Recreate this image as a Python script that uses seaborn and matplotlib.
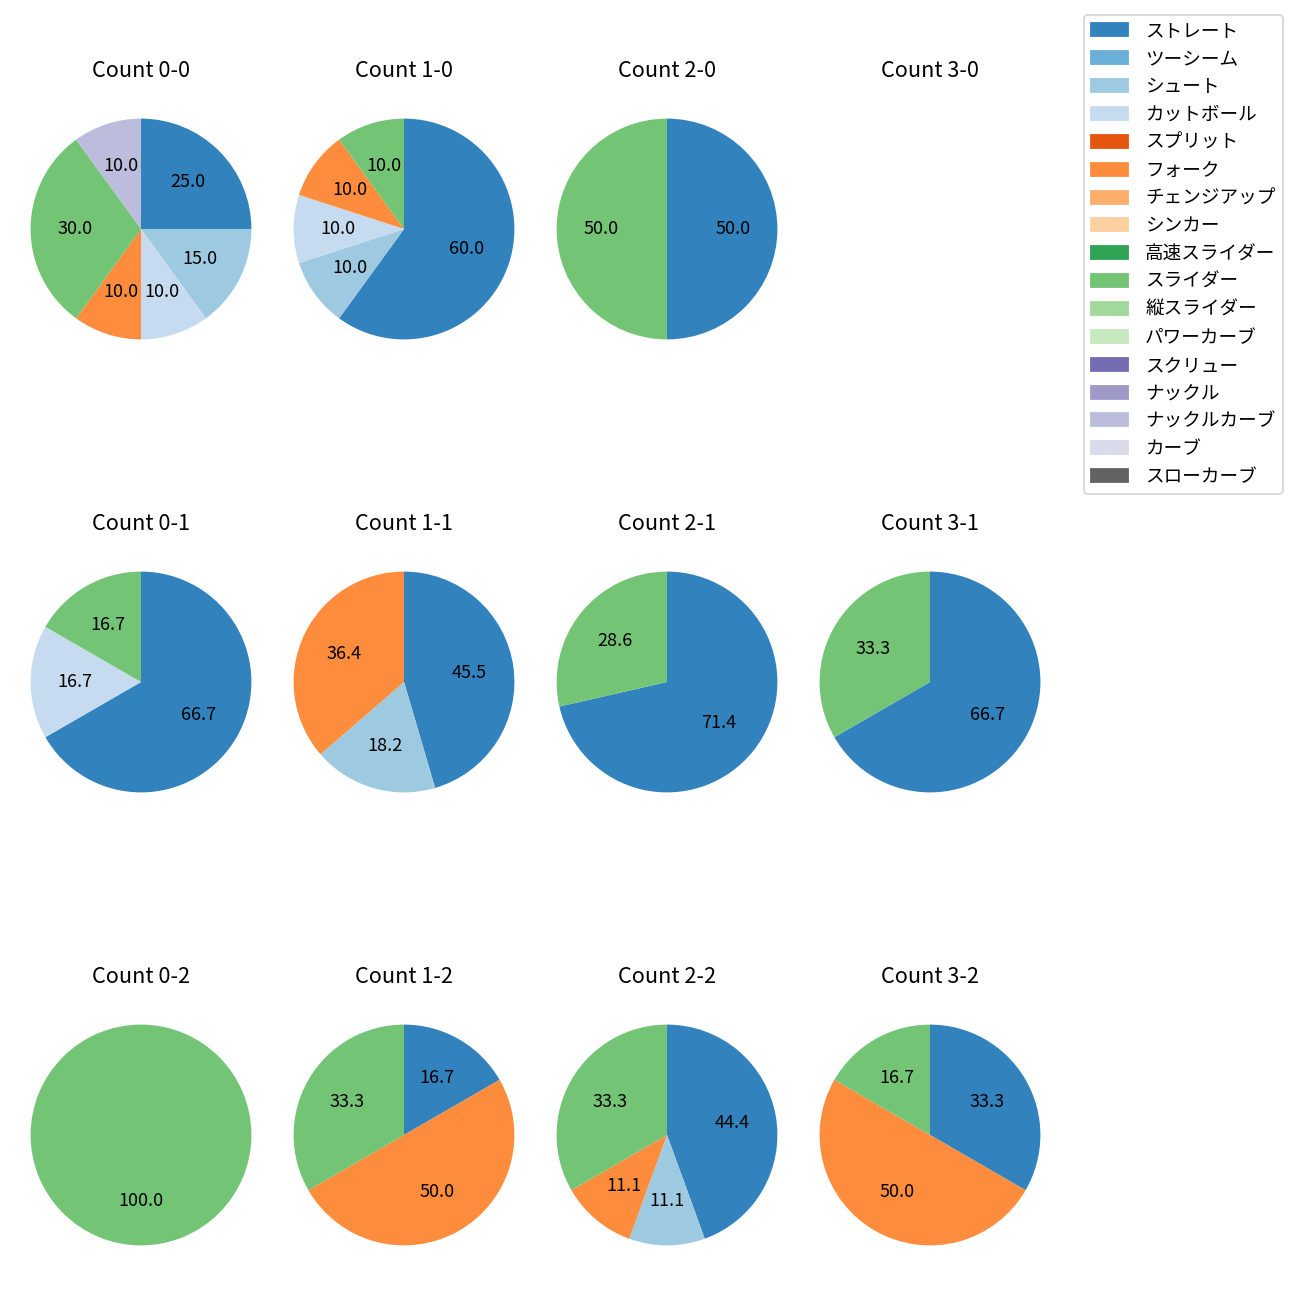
import matplotlib
matplotlib.use("Agg")
import matplotlib.pyplot as plt
import matplotlib.patches as mpatches
import seaborn as sns

plt.rcParams['font.family'] = ['Noto Sans CJK JP', 'DejaVu Sans']

pitch_types = ["ストレート", "ツーシーム", "シュート", "カットボール", "スプリット", "フォーク",
               "チェンジアップ", "シンカー", "高速スライダー", "スライダー", "縦スライダー",
               "パワーカーブ", "スクリュー", "ナックル", "ナックルカーブ", "カーブ", "スローカーブ"]

# pitch counts per ball-strike count, ordered as pitch_types
count_0_0 = [5, 0, 3, 2, 0, 2, 0, 0, 0, 6, 0, 0, 0, 0, 2, 0, 0]
count_1_0 = [6, 0, 1, 1, 0, 1, 0, 0, 0, 1, 0, 0, 0, 0, 0, 0, 0]
count_2_0 = [1, 0, 0, 0, 0, 0, 0, 0, 0, 1, 0, 0, 0, 0, 0, 0, 0]
count_3_0 = [0, 0, 0, 0, 0, 0, 0, 0, 0, 0, 0, 0, 0, 0, 0, 0, 0]
count_0_1 = [4, 0, 0, 1, 0, 0, 0, 0, 0, 1, 0, 0, 0, 0, 0, 0, 0]
count_1_1 = [5, 0, 2, 0, 0, 4, 0, 0, 0, 0, 0, 0, 0, 0, 0, 0, 0]
count_2_1 = [5, 0, 0, 0, 0, 0, 0, 0, 0, 2, 0, 0, 0, 0, 0, 0, 0]
count_3_1 = [2, 0, 0, 0, 0, 0, 0, 0, 0, 1, 0, 0, 0, 0, 0, 0, 0]
count_0_2 = [0, 0, 0, 0, 0, 0, 0, 0, 0, 1, 0, 0, 0, 0, 0, 0, 0]
count_1_2 = [1, 0, 0, 0, 0, 3, 0, 0, 0, 2, 0, 0, 0, 0, 0, 0, 0]
count_2_2 = [4, 0, 1, 0, 0, 1, 0, 0, 0, 3, 0, 0, 0, 0, 0, 0, 0]
count_3_2 = [2, 0, 0, 0, 0, 3, 0, 0, 0, 1, 0, 0, 0, 0, 0, 0, 0]

count_labels = ["0-0", "1-0", "2-0", "3-0",
                "0-1", "1-1", "2-1", "3-1",
                "0-2", "1-2", "2-2", "3-2"]
count_data = [count_0_0, count_1_0, count_2_0, count_3_0,
              count_0_1, count_1_1, count_2_1, count_3_1,
              count_0_2, count_1_2, count_2_2, count_3_2]

colors = sns.color_palette("tab20c", 20)[:len(pitch_types)]

fig, axes = plt.subplots(3, 4, figsize=(10, 10), dpi=130)
fig.subplots_adjust(left=0.00231, right=0.82154, top=0.93, bottom=0.02077,
                    wspace=-0.0471, hspace=0.6413)

for ax, label, data in zip(axes.flat, count_labels, count_data):
    vals = [v for v in data if v > 0]
    cols = [c for v, c in zip(data, colors) if v > 0]
    if vals:
        ax.pie(vals, colors=cols, autopct='%.1f', startangle=90, counterclock=False)
    else:
        ax.axis('off')
    ax.set_title(f"Count {label}", pad=7.8)

handles = [mpatches.Patch(color=c, label=p) for p, c in zip(pitch_types, colors)]
fig.legend(handles=handles, loc='upper right', fontsize=10.3, handletextpad=0.9,
           labelspacing=0.53,
           bbox_to_anchor=(1283 / 1300, 1 - 15 / 1300), borderaxespad=0)

fig.savefig("out.png", dpi=130)
